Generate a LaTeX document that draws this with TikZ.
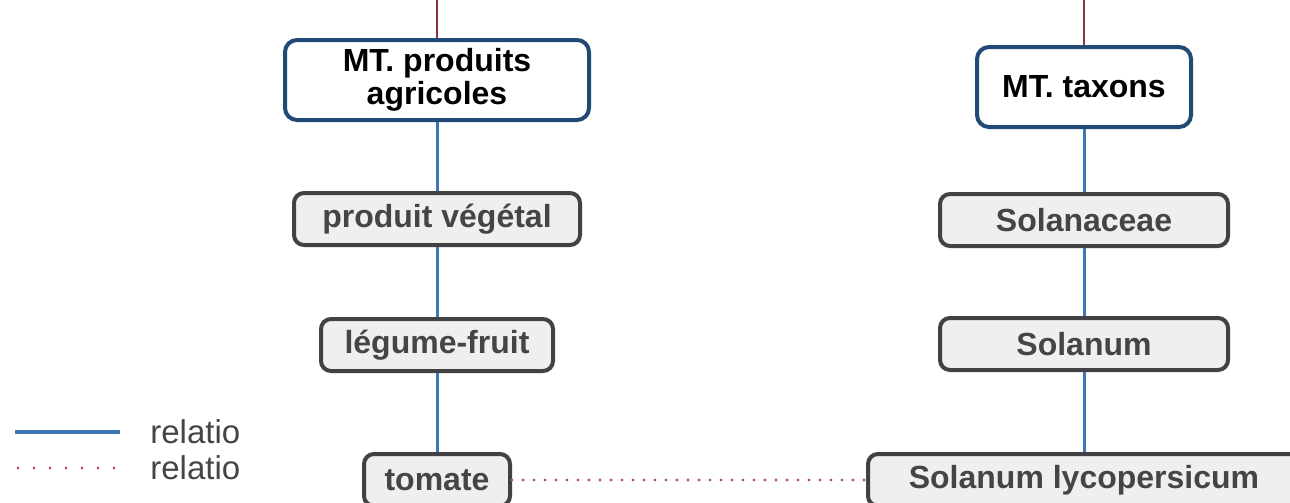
\documentclass[tikz,border=0pt]{standalone}
\usepackage{fontspec}
\setmainfont{Liberation Sans}
\usepackage{tikz}

\definecolor{mtblue}{HTML}{1F4A75}
\definecolor{relblue}{HTML}{3B78B4}
\definecolor{relred}{HTML}{8E2F3C}
\definecolor{dotred}{HTML}{B85A5A}
\definecolor{boxgray}{HTML}{EFEFEF}
\definecolor{edgegray}{HTML}{424242}
\definecolor{txtgray}{HTML}{454545}

\begin{document}
\begin{tikzpicture}[x=0.5pt,y=-0.5pt,
    mt/.style={draw=mtblue,line width=2pt,rounded corners=6pt,fill=white,
      font=\fontsize{16}{16.5}\selectfont\bfseries,align=center,minimum height=40pt},
    cat/.style={draw=edgegray,line width=2pt,rounded corners=5pt,fill=boxgray,
      text=txtgray,font=\fontsize{16}{18}\selectfont\bfseries},
    isa/.style={draw=relblue,line width=1.5pt},
    same/.style={draw=dotred,line width=1.6pt,line cap=round,dash pattern=on 0pt off 5.5pt},
    top/.style={draw=relred,line width=0.8pt}]
  \clip (0,0) rectangle (1290,503);
  \node[mt,minimum width=152pt] (agri) at (437,80) {MT. produits\\agricoles};
  \node[mt,minimum width=107pt] (taxons) at (1084,87) {MT. taxons};
  \foreach \pos/\name/\w/\txt in {{(437,219)/veg/143/produit végétal}, {(437,345)/legume/116/légume-fruit},
      {(437,480)/tomate/73/tomate}, {(1084,220)/solanaceae/144/Solanaceae},
      {(1084,344)/solanum/144/Solanum}, {(1084,480)/lyco/216/Solanum lycopersicum}}
    \node[cat,minimum width=\w pt,minimum height=26pt] (\name) at \pos {\txt};
  \coordinate (agritop) at (437,0);
  \coordinate (taxtop) at (1084,0);
  \path[top] (agritop) -- (agri);
  \path[top] (taxtop) -- (taxons);
  \foreach \source/\dest in {agri/veg, veg/legume, legume/tomate, taxons/solanaceae, solanaceae/solanum, solanum/lyco}
    \path[isa] (\source) -- (\dest);
  \path[same] (tomate) -- (lyco);
  % legende
  \coordinate (l1a) at (15,432);
  \coordinate (l1b) at (120,432);
  \coordinate (l2a) at (18,468);
  \coordinate (l2b) at (118,468);
  \path[isa,line width=2pt] (l1a) -- (l1b);
  \path[same,dash pattern=on 0pt off 8pt] (l2a) -- (l2b);
  \node[anchor=west,text=txtgray,font=\fontsize{16.5}{18}\selectfont,inner sep=0pt] (leg1) at (150,432) {relatio};
  \node[anchor=west,text=txtgray,font=\fontsize{16.5}{18}\selectfont,inner sep=0pt] (leg2) at (150,468) {relatio};
\end{tikzpicture}
\end{document}
